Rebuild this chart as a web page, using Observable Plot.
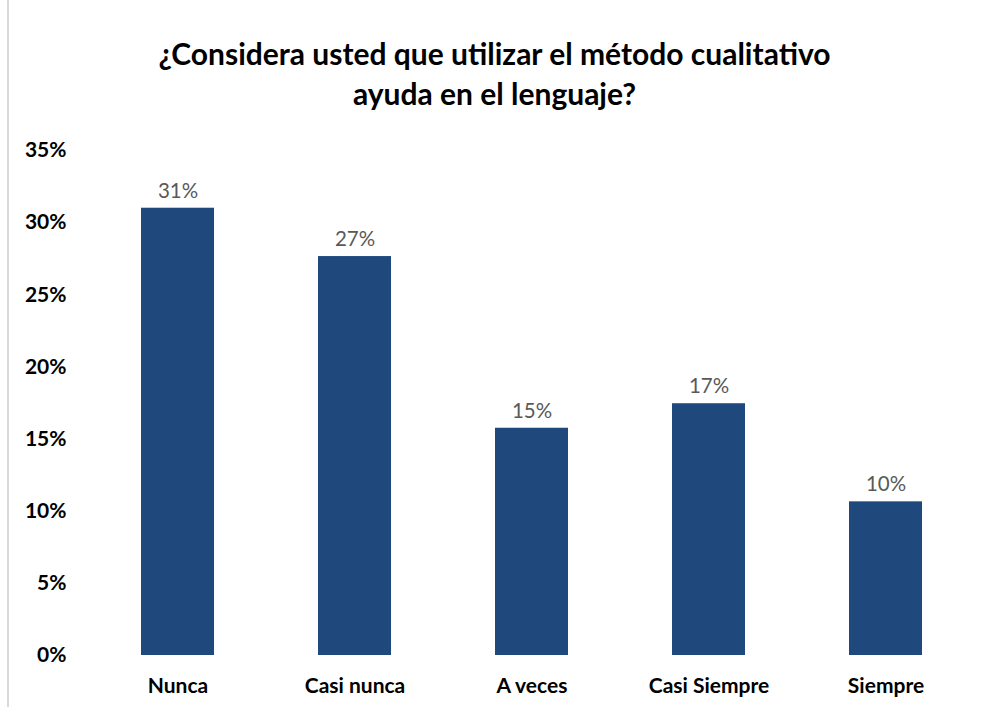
<!DOCTYPE html>
<html>
<head>
<meta charset="utf-8">
<script src="https://cdn.jsdelivr.net/npm/d3@7"></script>
<script src="https://cdn.jsdelivr.net/npm/@observablehq/plot@0.6"></script>
<style>
  html, body { margin: 0; padding: 0; background: #fff; }
  #wrap { position: relative; width: 989px; height: 707px; font-family: Lato, "Open Sans", sans-serif; }
  #leftline { position: absolute; left: 7px; top: 0; width: 2px; height: 707px; background: #d9d9d9; }
  #title { position: absolute; left: 0; top: 0; width: 989px; height: 120px; box-sizing: border-box; padding-top: 33px; padding-left: 0px;
           text-align: center; font-weight: bold; font-size: 30px; line-height: 40px; color: #000; }
  #chart { position: absolute; left: 0; top: 120px; }
</style>
</head>
<body>
<div id="wrap">
  <div id="leftline"></div>
  <div id="title">¿Considera usted que utilizar el método cualitativo<br>ayuda en el lenguaje?</div>
  <div id="chart"></div>
</div>
<script>
const categories = ["Nunca", "Casi nunca", "A veces", "Casi Siempre", "Siempre"];
const values = [31.0, 27.65, 15.75, 17.45, 10.65];
const valueLabels = ["31%", "27%", "15%", "17%", "10%"];
const yTicks = [0, 5, 10, 15, 20, 25, 30, 35];

const data = categories.map((c, i) => ({category: c, value: values[i], label: valueLabels[i]}));

const plot = Plot.plot({
  width: 989,
  height: 587,
  marginTop: 30,
  marginBottom: 52,
  marginLeft: 89,
  marginRight: 15,
  style: {fontFamily: "Lato, 'Open Sans', sans-serif", background: "transparent"},
  x: {domain: categories, paddingInner: 0.588, paddingOuter: 0.294, label: null},
  y: {domain: [0, 35], label: null},
  marks: [
    Plot.barY(data, {x: "category", y: "value", fill: "#1f497d"}),
    Plot.text(data, {x: "category", y: "value", text: "label", dy: -17, fill: "#595959", fontSize: 20.5}),
    Plot.axisY({ticks: yTicks, tickSize: 0, tickPadding: 23, tickFormat: d => d + "%", fontSize: 21, fontWeight: "bold", fill: "#000", label: null}),
    Plot.axisX({tickSize: 0, tickPadding: 23, fontSize: 21, fontWeight: "bold", fill: "#000", label: null})
  ]
});
document.getElementById("chart").appendChild(plot);
</script>
</body>
</html>
